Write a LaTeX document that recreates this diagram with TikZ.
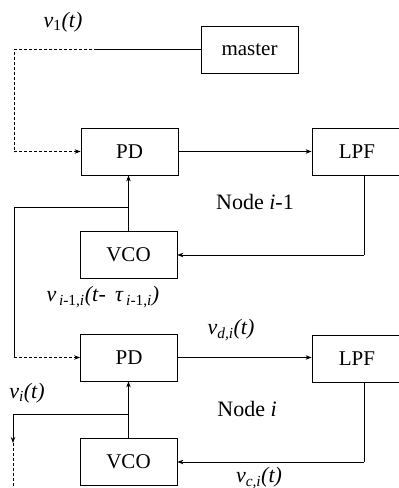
\documentclass[tikz,border=0pt]{standalone}
\usepackage{fontspec}
\setmainfont{Liberation Serif}
\usetikzlibrary{arrows.meta}
\begin{document}
\begin{tikzpicture}[x=1pt,y=-1pt,
  blk/.style={draw,line width=0.8pt,minimum width=97pt,minimum height=47pt,inner sep=0pt,font=\fontsize{21}{25}\selectfont},
  lbl/.style={inner sep=0pt,font=\fontsize{22}{26}\selectfont},
  wire/.style={line width=0.8pt},
  arr/.style={wire,-{Stealth[length=6pt,width=4.5pt]}},
  dsh/.style={dash pattern=on 3pt off 2pt}]
\useasboundingbox (0,0) rectangle (399,488);
\clip (0,0) rectangle (399,488);
\node[blk] (master) at (249.5,49.5) {master};
\node[blk] (pd1) at (129.5,151.5) {PD};
\node[blk,minimum width=104pt] (lpf1) at (364,151.5) {};
\node[font=\fontsize{21}{25}\selectfont] (lpf1t) at (357,151.5) {LPF};
\node[blk] (vco1) at (128.5,255) {VCO};
\node[blk] (pd2) at (129,357.5) {PD};
\node[blk,minimum width=104pt] (lpf2) at (364,358.5) {};
\node[font=\fontsize{21}{25}\selectfont] (lpf2t) at (357,358.5) {LPF};
\node[blk] (vco2) at (128.5,462) {VCO};
% coordinates
\coordinate (m1) at (97,49.5);
\coordinate (c1) at (14,49.5);
\coordinate (c2) at (14,151.5);
\coordinate (b1) at (128.5,207);
\coordinate (b2) at (14,207);
\coordinate (b3) at (14,357.5);
\coordinate (l1) at (364,255);
\coordinate (l2) at (364,462);
\coordinate (d1) at (128.5,414);
\coordinate (d2) at (13,414);
\coordinate (d3) at (13,443);
\coordinate (d4) at (13,488);
% connectors
\draw[wire] (master.west) -- (m1);
\draw[wire,dsh] (m1) -- (c1) -- (c2);
\draw[arr,dsh] (c2) -- (pd1.west);
\draw[arr] (pd1.east) -- (pd1.east -| lpf1.west);
\draw[wire] (lpf1.south) -- (l1);
\draw[arr] (l1) -- (vco1.east);
\draw[arr] (vco1.north) -- (vco1.north |- pd1.south);
\draw[wire] (b1) -- (b2) -- (b3);
\draw[arr,dsh] (b3) -- (pd2.west);
\draw[arr] (pd2.east) -- (pd2.east -| lpf2.west);
\draw[wire] (lpf2.south) -- (l2);
\draw[arr] (l2) -- (vco2.east);
\draw[arr] (vco2.north) -- (vco2.north |- pd2.south);
\draw[arr] (d1) -- (d2) -- (d3);
\draw[wire,dsh] (d3) -- (d4);
% labels
\node[lbl] (v1) at (63,22) {\textit{v}\textsubscript{1}\textit{(t)}};
\node[lbl] (n1) at (255,202) {Node \textit{i}-1};
\node[lbl] (vdel) at (103,297) {\textit{v}\textsubscript{\,\textit{i}-1,\textit{i}}\textit{(t}-\, \textit{τ}\textsubscript{\,\textit{i}-1,\textit{i}}\textit{)}};
\node[lbl] (vd) at (231,330) {\textit{v}\textsubscript{\textit{d,i}}\textit{(t)}};
\node[lbl] (vi) at (27,393) {\textit{v}\textsubscript{\textit{i}}\textit{(t)}};
\node[lbl] (n2) at (247,409) {Node \textit{i}};
\node[lbl] (vc) at (259,478) {\textit{v}\textsubscript{\textit{c,i}}\textit{(t)}};
\end{tikzpicture}
\end{document}
